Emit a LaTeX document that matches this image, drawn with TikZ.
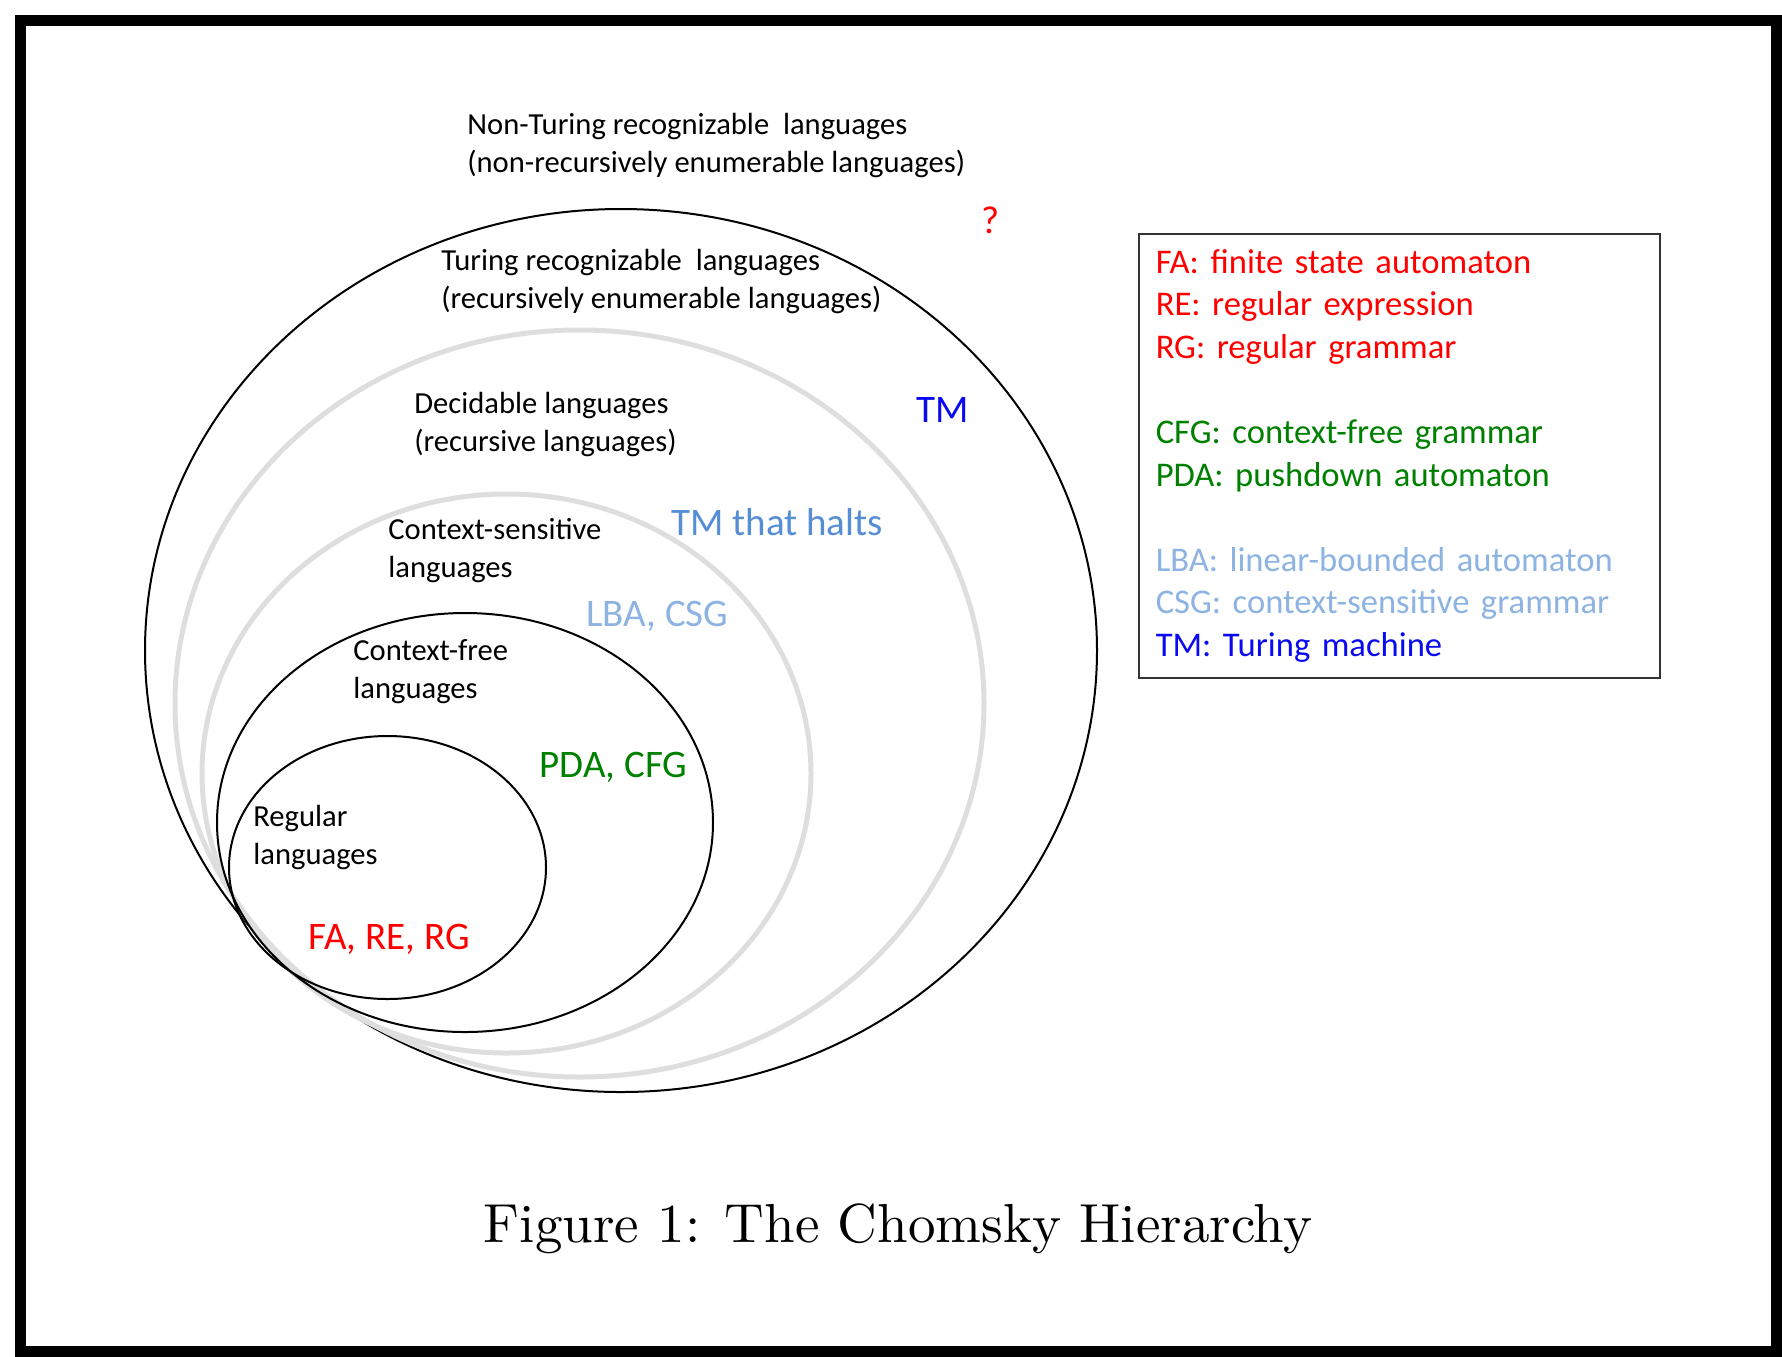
\documentclass[tikz,border=0pt]{standalone}
\usepackage{fontspec}
\newfontfamily\calib{Carlito}
\newfontfamily\capfont{lmroman10-regular.otf}
\definecolor{fared}{RGB}{255,0,0}
\definecolor{cfgreen}{RGB}{0,128,0}
\definecolor{lbablue}{RGB}{141,179,226}
\definecolor{haltblue}{RGB}{85,142,213}
\definecolor{tmblue}{RGB}{10,10,240}
\definecolor{ringgray}{RGB}{222,222,222}

\begin{document}
\begin{tikzpicture}[x=0.5pt,y=-0.5pt,
  lang/.style={font=\calib\fontsize{15.3}{19}\selectfont, align=left, anchor=base west, inner sep=0pt},
  tool/.style={font=\calib\fontsize{19.5}{23}\selectfont, anchor=base west, inner sep=0pt},
  blackring/.style={line width=1pt, black},
  grayring/.style={line width=2.5pt, ringgray},
  legendbox/.style={draw=black!80, line width=0.75pt, anchor=north west,
    font=\calib\fontsize{17.3}{21.3}\selectfont, align=left,
    text width=243.5pt, inner xsep=8.5pt, minimum width=260.5pt, minimum height=222pt}]

  \useasboundingbox (0,0) rectangle (1782,1356);
  \draw[line width=5.5pt] (20,20) rectangle (1776.5,1351); %% frame

  %% rings, outermost first
  \draw[blackring] (621,650.5) ellipse [x radius=476, y radius=441.5]; % Turing recognizable
  \draw[grayring] (579.5,703.5) ellipse [x radius=404.5, y radius=373.5]; % decidable
  \draw[grayring] (506.5,773.5) ellipse [x radius=304.5, y radius=279.5]; % context-sensitive
  \draw[blackring] (465,822.5) ellipse [x radius=248, y radius=209.5]; % context-free
  \draw[blackring] (387.5,867.5) ellipse [x radius=158.5, y radius=131.5]; % regular

  %% language names (placed at the baseline of their last line)
  \node[lang] (nontm) at (467,172) {Non-Turing recognizable~ languages\\(non-recursively enumerable languages)};
  \node[lang] (turrec) at (441,308) {Turing recognizable~ languages\\(recursively enumerable languages)};
  \node[lang] (decid) at (414,451) {Decidable languages\\(recursive languages)};
  \node[lang] (csl) at (388,577) {Context-sensitive\\languages};
  \node[lang] (cfl) at (353,698) {Context-free\\languages};
  \node[lang] (regl) at (253,864) {Regular\\languages};

  %% machines and grammars
  \node[tool, text=fared, anchor=base] (unknown) at (991,233) {?};
  \node[tool, text=tmblue] (tm) at (916,422) {TM};
  \node[tool, text=haltblue] (tmhalt) at (671,535) {TM that halts};
  \node[tool, text=lbablue] (lba) at (586,626) {LBA, CSG};
  \node[tool, text=cfgreen] (pda) at (539,777) {PDA, CFG};
  \node[tool, text=fared] (fa) at (308,949) {FA, RE, RG};

  %% legend
  \node[legendbox] (legend) at (1138,233) {%
    \textcolor{fared}{FA: finite state automaton}\\
    \textcolor{fared}{RE: regular expression}\\
    \textcolor{fared}{RG: regular grammar}\\[21.3pt]
    \textcolor{cfgreen}{CFG: context-free grammar}\\
    \textcolor{cfgreen}{PDA: pushdown automaton}\\[21.3pt]
    \textcolor{lbablue}{LBA: linear-bounded automaton}\\
    \textcolor{lbablue}{CSG: context-sensitive grammar}\\
    \textcolor{tmblue}{TM: Turing machine}};

  \node[font=\capfont\fontsize{27.5}{33}\selectfont, anchor=base] (caption) at (898,1242) {Figure 1: The Chomsky Hierarchy};

\end{tikzpicture}
\end{document}
